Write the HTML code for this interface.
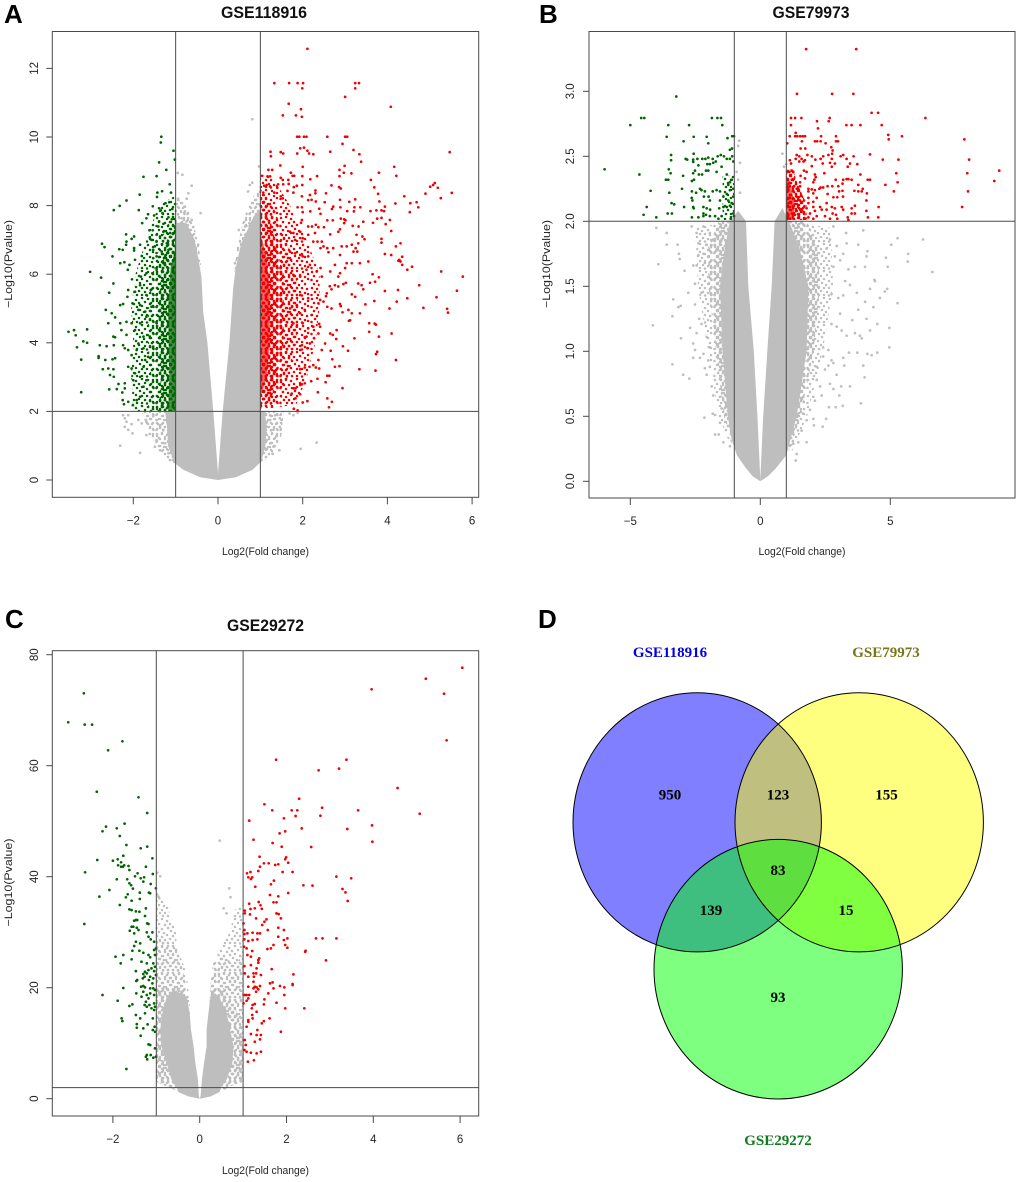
<!DOCTYPE html>
<html lang="en">
<head>
<meta charset="utf-8">
<title>Volcano plots and Venn diagram</title>
<style>
html,body{margin:0;padding:0;background:#fff;}
svg{display:block;}
text{font-family:"Liberation Sans",Arial,sans-serif;}
.venn-text{font-family:"Liberation Serif","Times New Roman",serif;font-weight:bold;}
#plot-a,#plot-b,#plot-c{filter:blur(0.3px);}
</style>
</head>
<body>
<svg id="figure" xmlns="http://www.w3.org/2000/svg" width="1020" height="1182" viewBox="0 0 1020 1182">
  <defs>
    <g id="tile-a">
      <circle cx="2" cy="2" r="1.25"/><circle cx="7" cy="1" r="1.25"/><circle cx="12" cy="3" r="1.25"/><circle cx="18" cy="1" r="1.25"/><circle cx="24" cy="2" r="1.25"/><circle cx="29" cy="4" r="1.25"/>
      <circle cx="4" cy="6" r="1.25"/><circle cx="10" cy="7" r="1.25"/><circle cx="15" cy="6" r="1.25"/><circle cx="21" cy="5" r="1.25"/><circle cx="26" cy="7" r="1.25"/>
      <circle cx="1.5" cy="10" r="1.25"/><circle cx="7" cy="11" r="1.25"/><circle cx="13" cy="10" r="1.25"/><circle cx="18" cy="9" r="1.25"/><circle cx="23" cy="11" r="1.25"/><circle cx="29" cy="9" r="1.25"/>
      <circle cx="4" cy="14" r="1.25"/><circle cx="9" cy="15" r="1.25"/><circle cx="16" cy="13" r="1.25"/><circle cx="20" cy="15" r="1.25"/><circle cx="26" cy="14" r="1.25"/>
      <circle cx="2" cy="18" r="1.25"/><circle cx="7" cy="19" r="1.25"/><circle cx="12" cy="17" r="1.25"/><circle cx="18" cy="18" r="1.25"/><circle cx="23" cy="18" r="1.25"/><circle cx="28" cy="19" r="1.25"/>
      <circle cx="5" cy="22" r="1.25"/><circle cx="10" cy="22" r="1.25"/><circle cx="15" cy="21" r="1.25"/><circle cx="21" cy="22" r="1.25"/><circle cx="26" cy="23" r="1.25"/>
      <circle cx="1.5" cy="25" r="1.25"/><circle cx="8" cy="25" r="1.25"/><circle cx="13" cy="25" r="1.25"/><circle cx="18" cy="25" r="1.25"/><circle cx="23" cy="25.5" r="1.25"/><circle cx="29" cy="24" r="1.25"/>
    </g>
    <g id="tile-b"><use href="#tile-a"/><use href="#tile-a" transform="translate(31,0) scale(-1,1)"/></g>
    <g id="tile-c"><use href="#tile-b"/><use href="#tile-b" transform="translate(0,27) scale(1,-1)"/></g>

    <pattern id="gray-sparse" width="31" height="27" patternUnits="userSpaceOnUse"><use href="#tile-a" fill="#bebebe"/></pattern>
    <pattern id="gray-medium" width="31" height="27" patternUnits="userSpaceOnUse"><use href="#tile-b" fill="#bebebe"/></pattern>
    <pattern id="gray-dense" width="31" height="27" patternUnits="userSpaceOnUse"><use href="#tile-c" fill="#bebebe"/></pattern>
    <pattern id="red-sparse" width="31" height="27" patternUnits="userSpaceOnUse"><use href="#tile-a" fill="#f00000"/></pattern>
    <pattern id="red-medium" width="31" height="27" patternUnits="userSpaceOnUse"><use href="#tile-b" fill="#f00000"/></pattern>
    <pattern id="red-dense" width="31" height="27" patternUnits="userSpaceOnUse"><use href="#tile-c" fill="#f00000"/></pattern>
    <pattern id="red-full" width="31" height="27" patternUnits="userSpaceOnUse"><rect width="31" height="27" fill="#f00000" fill-opacity="0.6"/><use href="#tile-c" fill="#f00000"/></pattern>
    <pattern id="green-sparse" width="31" height="27" patternUnits="userSpaceOnUse"><use href="#tile-a" fill="#006400"/></pattern>
    <pattern id="green-medium" width="31" height="27" patternUnits="userSpaceOnUse"><use href="#tile-b" fill="#006400"/></pattern>
    <pattern id="green-dense" width="31" height="27" patternUnits="userSpaceOnUse"><use href="#tile-c" fill="#006400"/></pattern>
    <pattern id="green-full" width="31" height="27" patternUnits="userSpaceOnUse"><rect width="31" height="27" fill="#006400" fill-opacity="0.7"/><use href="#tile-c" fill="#006400"/></pattern>
  </defs>
  <rect width="1020" height="1182" fill="#ffffff"/>

  <text x="4" y="23" font-size="26" font-weight="bold" fill="#000">A</text>
  <text x="539" y="23" font-size="26" font-weight="bold" fill="#000">B</text>
  <text x="5" y="628" font-size="26" font-weight="bold" fill="#000">C</text>
  <text x="538" y="628" font-size="26" font-weight="bold" fill="#000">D</text>

  <g id="plot-a"></g>
  <g id="plot-b"></g>
  <g id="plot-c"></g>

  <g>
    <ellipse cx="697.2" cy="822.3" rx="124.2" ry="129.6" fill="#0000ff" fill-opacity="0.5"/>
    <ellipse cx="859.2" cy="822.3" rx="124.2" ry="129.6" fill="#ffff00" fill-opacity="0.5"/>
    <ellipse cx="778.2" cy="969.2" rx="124.2" ry="129.8" fill="#00ff00" fill-opacity="0.5"/>
    <ellipse cx="697.2" cy="822.3" rx="124.2" ry="129.6" fill="none" stroke="#000" stroke-width="1"/>
    <ellipse cx="859.2" cy="822.3" rx="124.2" ry="129.6" fill="none" stroke="#000" stroke-width="1"/>
    <ellipse cx="778.2" cy="969.2" rx="124.2" ry="129.8" fill="none" stroke="#000" stroke-width="1"/>
    <text class="venn-text" x="670" y="657" font-size="15" text-anchor="middle" fill="#0000e0">GSE118916</text>
    <text class="venn-text" x="886" y="657" font-size="15" text-anchor="middle" fill="#76761a">GSE79973</text>
    <text class="venn-text" x="778" y="1145" font-size="15" text-anchor="middle" fill="#0f7a1f">GSE29272</text>
    <text class="venn-text" x="670" y="799.5" font-size="15" text-anchor="middle" fill="#000">950</text>
    <text class="venn-text" x="778" y="799.5" font-size="15" text-anchor="middle" fill="#000">123</text>
    <text class="venn-text" x="886.5" y="799.5" font-size="15" text-anchor="middle" fill="#000">155</text>
    <text class="venn-text" x="778" y="875" font-size="15" text-anchor="middle" fill="#000">83</text>
    <text class="venn-text" x="711" y="915" font-size="15" text-anchor="middle" fill="#000">139</text>
    <text class="venn-text" x="846" y="915" font-size="15" text-anchor="middle" fill="#000">15</text>
    <text class="venn-text" x="778" y="1002" font-size="15" text-anchor="middle" fill="#000">93</text>
  </g>
</svg>
<script>
/* ---------- Panel A: GSE118916 ---------- */
const aXTicks=[-2,0,2,4,6];
const aYTicks=[0,2,4,6,8,10,12];
const aYTickLabels=["0","2","4","6","8","10","12"];
const aFoldCut=[-1,1];
const aPvalCut=[2];
const aGrayLobeLeft=[[0,0],[-.42,.08],[-.82,.3],[-1.03,.5],[-1.18,1],[-1.2,1.5],[-1.25,2],[-1,2],[-1,7.5],[-.75,7.5],[-.55,7],[-.47,6.5],[-.39,5.9],[-.35,4.9],[-.25,4],[-.11,2],[-.03,.7],[0,.2]];
const aGrayLobeRight=[[0,0],[.42,.08],[.82,.3],[1.03,.55],[1.12,1],[1.15,1.6],[1.1,2],[1,2],[1,7.9],[.85,7.7],[.7,7.3],[.55,6.9],[.42,6.2],[.36,5.6],[.27,4],[.11,2],[.03,.7],[0,.2]];
const aGrayLowLeft=[[-1.03,.45],[-1.3,.75],[-1.55,1.2],[-1.7,1.6],[-1.8,2],[-1,2]];
const aGrayLowRight=[[1.03,.5],[1.3,.8],[1.5,1.3],[1.55,2],[1,2]];
const aGrayTopLeft=[[-1,7.3],[-1,8.2],[-.8,8.1],[-.6,7.6],[-.45,6.8],[-.38,6],[-.6,7]];
const aGrayTopRight=[[1,7.7],[1,8.6],[.8,8.2],[.6,7.6],[.45,6.8],[.38,6],[.6,7]];
const aGreenSparse=[[-1,2],[-2,2],[-2.05,3],[-2,4],[-2.05,5],[-1.95,6],[-1.7,7],[-1.4,8],[-1,8.3]];
const aGreenMedium=[[-1,2],[-1.65,2],[-1.6,3],[-1.65,4],[-1.65,5],[-1.55,6],[-1.35,7],[-1.1,7.7],[-1,7.8]];
const aGreenDense=[[-1,2],[-1.4,2],[-1.35,3],[-1.4,4],[-1.4,5],[-1.35,6],[-1.2,7],[-1,7.5]];
const aGreenFull=[[-1,2],[-1.18,2],[-1.15,3],[-1.18,5],[-1.12,6.2],[-1,6.8]];
const aRedSparse=[[1,2.05],[1.85,2.2],[2.1,3],[2.3,4],[2.4,5],[2.4,6],[2.1,7],[1.7,8],[1.3,8.8],[1,8.9]];
const aRedMedium=[[1,2.05],[1.45,2.2],[1.65,3],[1.85,4],[1.9,5],[1.85,6],[1.6,7],[1.3,8],[1,8.5]];
const aRedDense=[[1,2.1],[1.25,2.3],[1.4,3],[1.55,4],[1.55,5],[1.55,6],[1.35,7],[1.15,8],[1,8.2]];
const aRedFull=[[1,2.4],[1.15,3],[1.22,4],[1.22,5.5],[1.15,6.5],[1,7.2]];
const aGrayPoints=[[-2.31,1],[-1.84,.79],[-2.24,1.89],[-2.2,1.8],[-2.12,1.89],[-2.16,1.7],[-2.2,1.55],[-2.12,1.46],[-2.02,1.36],[-2.04,1.63],[-1.88,1.75],[-1.8,1.65],[-1.69,1.7],[-1.69,1.31],[-1.61,1.34],[-1.53,1.86],[-1.45,1.75],[-1.37,1.6],[-1.45,1.16],[-1.49,.97],[-1.37,.87],[-1.29,1.46],[-1.25,1.07],[-1.17,.78],[-1.13,.58],
[-.95,8.95],[-.84,8.9],[-.62,8.58],[-.7,8.36],[-.94,8.2],[-.74,8.2],[-.78,7.97],[-.78,7.83],[-.41,7.78],[-.62,7.58],[-.74,7.54],[-.86,7.63],[-.47,6.86],[.81,10.52],[.97,9.14],[.71,8.41],[.75,8.6],[.81,8.67],[.49,7.29],[.64,7.39],[.74,7.49],[.52,6.22],[.4,6.32],
[1.11,1.94],[1.23,1.89],[1.35,1.89],[1.46,1.8],[1.5,1.75],[1.07,1.65],[1.23,1.75],[1.39,1.65],[1.46,1.55],[1.15,1.55],[1.31,1.46],[1.07,1.26],[1.15,1.16],[1.23,1.07],[1.31,.97],[1.11,.92],[1.29,.76],[1.45,.87],[1.38,1.28],[1.95,.91],[2.33,1.09],[1.69,1.94],[1.78,1.89],[1.88,1.96],[1.03,.58]];
const aGreenPoints=[[-1.34,10.01],[-1.35,9.84],[-1.05,9.6],[-1.02,9.34],[-1.39,9.26],[-1.22,9.04],[-1.76,8.84],[-1.45,8.86],[-1.14,8.62],[-1.85,8.32],[-2.16,8.15],[-2.32,7.99],[-2.46,7.87],[-1.87,7.87],[-1.44,8.25],[-1.43,8.38],[-1.32,8.42],[-1.11,8.38],[-1.24,8.07],[-1.15,8.1],[-1.54,7.98],[-1.39,7.92],[-1.35,7.86],[-1.31,7.78],[-1.08,7.9],[-1.65,7.75],[-1.69,7.63],[-1.79,7.49],[-1.51,7.71],[-1.17,7.66],[-1.09,7.6],[-1.39,7.54],[-1.29,7.47],[-1.41,7.39],[-2.17,7.16],[-1.98,7.1],[-2.04,7.03],[-2.16,6.95],[-2.17,6.86],[-1.62,7.28],[-1.54,7.28],[-1.61,7.08],[-1.57,7],[-1.45,7.15],[-1.37,7.1],[-1.45,6.95],[-1.49,6.81],[-1.53,6.71],[-1.84,6.86],[-2.33,6.73],[-2.25,6.71],[-1.98,6.76],[-1.98,6.69],[-2.74,6.89],[-2.68,6.79],[-1.8,6.53],[-1.96,6.42],[-2.49,6.52],[-2.31,6.32],[-2.21,6.35],[-2.09,6.27],[-3.02,6.07],[-2.76,5.9],[-2.13,6.13],[-2.03,5.85],[-1.82,5.93],[-1.69,6.03],[-1.53,6.47],[-1.45,6.52],[-1.55,6.03],[-1.45,6.13],[-1.29,6.32],[-1.37,6.22],[-1.25,6.52],[-1.17,6.71],[-1.33,6.66],[-1.21,6.9],[-1.13,7.2],[-1.29,7.24],
[-3.53,4.32],[-3.4,4.37],[-3.36,4.22],[-3.09,4.39],[-3.18,4.04],[-3.09,4],[-3.33,3.87],[-3.23,3.51],[-3.23,2.56],[-2.82,3.61],[-2.82,3.56],[-2.79,3.93],[-2.63,3.9],[-2.46,3.93],[-2.66,3.5],[-2.49,3.52],[-2.43,3.55],[-2.72,3.23],[-2.59,3.25],[-2.55,3.06],[-2.46,3.01],[-2.47,3.23],[-2.57,2.64],[-2.39,2.65],[-2.35,2.8],[-2.26,2.55],[-2.2,2.67],[-2.2,2.82],[-2.25,2.33],[-2.22,2.21],[-2.12,2.28],[-2.01,2.18],[-1.92,2.33],[-1.84,2.43],[-2.57,5.46],[-2.65,4.96],[-2.59,4.57],[-2.47,5.73],[-2.51,4.86],[-2.43,4.74],[-2.47,4.18],[-2.43,4.16],[-2.31,4.57],[-2.28,4.37],[-2.16,4.23],[-2.31,5.1],[-2.24,5.13],[-2.12,5.54],[-2.14,5.34],[-1.96,5.49],[-2.02,5.15],[-1.84,5.1],[-2.16,4.61],[-2.04,4.57],[-1.96,4.37],[-1.84,4.57],[-1.72,4.91],[-1.69,4.76],[-1.88,4.96],[-2.2,3.84],[-2.12,3.79],[-2.24,3.93],[-2.04,3.64],[-1.88,3.98],[-1.76,3.84],[-1.92,3.79],[-2.12,3.3],[-2.04,3.25],[-1.96,3.11],[-2,2.91],[-1.76,3.3],[-1.72,3.5],[-1.84,3.01],[-1.69,2.91],[-1.76,2.72],[-1.65,3.59],[-1.53,3.89],[-1.61,4.18],[-1.45,4.57],[-1.57,5.05],[-1.76,4.18],[-1.69,5.39],[-1.84,5.68],[-1.59,5.54]];
const aRedPoints=[[2.11,12.57],[1.33,11.57],[1.68,11.57],[1.88,11.57],[2.01,11.57],[1.99,11.42],[3.24,11.57],[3.33,11.57],[3.24,11.42],[3,11.17],[4.08,10.88],[1.67,10.97],[1.96,10.81],[1.53,10.63],[1.84,10.63],[1.98,10.59],[1.87,10.01],[1.92,10.01],[2.03,10.01],[2.09,10.01],[2.58,10.01],[3,10.01],[3.05,10.01],
[1.24,9.57],[1.25,9.44],[1.48,9.56],[1.54,9.52],[1.87,9.52],[1.94,9.67],[2.03,9.69],[2.11,9.6],[2.15,9.52],[2.25,9.5],[2.65,9.57],[2.94,9.8],[3.2,9.62],[3.34,9.5],[3.38,9.28],[5.47,9.56],[1.47,9.17],[1.19,9.04],[1.28,9.04],[2,9.13],[2.99,9.16],[2.87,9.04],[2.97,8.96],[2.87,8.86],[3.15,8.94],[4.16,9.13],[4.21,8.87],[3.8,8.96],[3.61,8.75],[3.69,8.53],[3.78,8.34],[1.04,8.87],[1.17,8.85],[1.23,8.85],[1.72,8.96],[1.76,8.87],[1.8,8.87],[1.99,8.86],[2.18,8.77],[2.34,8.86],[1.66,8.75],[1.53,8.75],[1.48,8.81],[1.42,8.62],[1.54,8.62],[1.67,8.63],[1.09,8.58],[1.15,8.6],[1.23,8.56],[1.4,8.52],[1.79,8.54],[1.86,8.58],[1.99,8.6],[2.68,8.59],[2.86,8.54],[2.9,8.5],[5.12,8.66],[5.08,8.6],[5.01,8.55],[5.19,8.52],[4.9,8.35],[5.52,8.37],[5.26,8.22],[4.4,8.27],[2.55,8.36],[2.3,8.44],[2.3,8.36],[2.17,8.31],[1.98,8.27],[1.78,8.38],[1.64,8.43],[1.33,8.38],[1.07,8.38],[1.48,8.27],[1.53,8.21],[2.13,8.16],[2.21,8.17],[2.31,8.12],[2.52,8.1],[2.88,8.17],[3.1,8.11],[3.24,8.18],[3.81,8.12],[3.94,7.97],[4.19,8.06],[4.54,8.07],[4.69,8.1],[4.73,7.95],[4.53,7.81],[2.72,7.97],[2.69,7.9],[3.22,7.95],[3.36,7.95],[3.21,7.83],[3.05,7.84],[2.89,7.95],[2.39,7.91],[3.74,7.86],[3.86,7.86],[3.92,7.84],[3.6,7.84],[1.88,7.95],[1.98,7.95],[2.18,7.83],[2,7.81],[2.42,7.76],[3.76,7.62],[3.86,7.64],[4.06,7.58],[3.66,7.5],[3.96,7.46],[3.43,7.53],[4.09,7.26],[2.58,7.57],[2.71,7.57],[2.9,7.62],[2.98,7.6],[3.01,7.57],[3.18,7.41],[3.32,7.39],[2.98,7.49],[2.31,7.44],[2.37,7.37],[2.5,7.37],[2.13,7.39],[2.22,7.39],[1.98,7.58],[1.96,7.5],[2.88,7.31],[2.84,7.24],[2.65,7.16],[3.27,7.15],[3.41,7.1],[3.46,7.02],[3.86,7.03],[3.86,6.92],[4.31,6.9],[4.2,6.81],[3.94,6.59],[4.09,6.56],[4.35,6.51],[4.28,6.42],[4.26,6.39],[4.31,6.37],[4.35,6.27],[4.58,6.22],[4.47,6.13],[5.27,6.08],[5.78,5.93],[3.55,6.37],[3.65,6],[3.8,5.91],[2.45,6.95],[2.35,6.95],[2.25,6.95],[2.49,6.81],[2.42,6.76],[2.58,6.76],[2.72,6.76],[2.61,6.64],[2.92,6.81],[3.04,6.81],[3.16,6.86],[3.31,6.9],[3.25,6.76],[3.2,6.66],[3.29,6.66],[2.88,6.56],[2.76,6.27],[3.04,6.32],[3.16,6.32],[3.35,6.32],[2.65,6.08],[2.88,6.03],[3,6.18],[2.42,6.18],[2.33,6.08],[2.17,6.27],[2.09,6.13],[2,6.52],[2.13,6.52],[1.94,6.56],[1.82,6.61],[1.7,6.66],[2,7.05],[2.13,7.15],[2.29,7.2],[1.78,7.2],[1.7,7.24],[1.82,7],[1.94,7.24],[1.94,5.93],[1.78,5.98],[2.45,5.93],[2.84,5.93],
[5.64,5.52],[5.16,5.33],[4.47,5.3],[4.22,5.2],[4.05,5],[4.85,5.02],[5.41,4.99],[5.43,4.88],[4.75,5.68],[4.25,5.54],[3.94,5.51],[3.69,5.22],[3.48,5.12],[3.24,5.34],[3.16,5.41],[3.71,5.78],[3.59,5.75],[3.43,5.56],[3.39,5.68],[3.31,5.73],[3.02,5.75],[2.96,5.71],[2.76,5.68],[2.64,5.65],[2.84,5.64],[2.68,5.56],[2.57,5.44],[2.55,5.36],[2.41,5.25],[2.37,5.15],[2.49,5.2],[2.58,5.05],[2.68,5],[2.88,5.13],[2.9,5.07],[3.08,4.96],[3.16,4.86],[2.94,4.89],[3.35,4.86],[3.09,4.64],[3.12,4.66],[3.57,4.57],[3.7,4.56],[3.73,4.53],[4.1,4.27],[3.57,4.32],[3.8,4.18],[3.22,4.13],[2.8,4.37],[2.65,4.27],[2.71,4.23],[2.79,4.11],[2.95,3.9],[3.07,3.77],[2.66,3.77],[3.76,3.74],[3.73,3.67],[2.7,3.52],[4.2,3.5],[2.87,3.32],[2.76,3.3],[3.34,3.23],[3.72,3.19],[2.58,3.04],[2.63,3.04],[2.54,2.85],[2.94,2.68],[2.36,2.56],[2.58,2.38],[2.69,2.28],[2.62,2.12],[2.11,2.3],[2,2.26],[2.35,2.95],[2.2,2.88],[2.05,2.82],[1.98,2.79],[1.94,2.77],[1.79,2.67],[1.83,2.67],[1.94,2.5],[1.83,2.38],[1.74,2.52],[1.88,2.03],[1.79,2.08],[2.53,3.98],[2.45,3.79],[2.37,3.5],[2.25,3.35],[2.16,3.3],[2.05,3.28],[1.94,3.23],[2.39,3.25],[2.31,3.28],[2.37,4.27],[2.27,4.13],[2.09,4.18],[2.05,4.16],[2.17,3.98],[1.98,3.93],[1.94,3.79],[2.11,3.84],[2.39,4.55],[2.25,4.47],[2.13,4.42],[2,4.57],[1.78,4.57],[1.86,4.47],[2.41,4.47],[2.13,5.3],[1.94,5.39],[1.86,5.1],[2.05,4.96],[1.7,5],[1.94,4.86],[2.21,4.81]];

/* ---------- Panel B: GSE79973 ---------- */
const bXTicks=[-5,0,5];
const bYTicks=[0,.5,1,1.5,2,2.5,3];
const bYTickLabels=["0.0","0.5","1.0","1.5","2.0","2.5","3.0"];
const bFoldCut=[-1,1];
const bPvalCut=[2];
const bGrayCoreLeft=[[0,0],[-.3,.04],[-.55,.1],[-.9,.2],[-1.1,.32],[-1.25,.5],[-1.45,1],[-1.55,1.5],[-1.4,1.75],[-1.17,2],[-.85,2.08],[-.55,2],[-.46,1.5],[-.25,1],[-.11,.5],[-.02,.1],[0,.02]];
const bGrayCoreRight=[[0,0],[.3,.04],[.6,.1],[1,.2],[1.2,.35],[1.4,.5],[1.78,1],[1.85,1.5],[1.5,1.8],[1.1,2],[.85,2.1],[.55,2],[.44,1.5],[.27,1],[.11,.5],[.02,.1],[0,.02]];
const bGrayDenseLeft=[[-1.1,.28],[-1.4,.5],[-1.7,1],[-2,1.5],[-2,1.8],[-1.6,2],[-1,2],[-1,1]];
const bGrayDenseRight=[[1.1,.22],[1.55,.5],[2.05,1],[2.3,1.5],[2.2,1.8],[1.8,2],[1,2],[1,1]];
const bGraySparseLeft=[[-1.2,.3],[-1.6,.5],[-2,1],[-2.4,1.5],[-2.5,1.95],[-1,2],[-1,1]];
const bGraySparseRight=[[1.2,.22],[1.8,.5],[2.4,1],[2.8,1.5],[2.7,1.95],[1,2],[1,1]];
const bRedDense=[[1,2.01],[1.8,2.01],[1.8,2.12],[1.45,2.28],[1.25,2.4],[1,2.4]];
const bRedFull=[[1,2.01],[1.3,2.01],[1.3,2.15],[1.15,2.3],[1,2.35]];
const bGreenSparse=[[-1,2.01],[-1.45,2.01],[-1.45,2.35],[-1,2.35]];
const bGrayPoints=[[-.81,2.62],[-.85,2.58],[-.78,2.45],[-.91,2.38],[-.85,2.32],[-.78,2.22],[.85,2.52],[.91,2.42],[1,2.44],[-4,1.95],[-3.6,1.91],[-3.6,1.82],[-3.18,1.82],[-3.13,1.75],[-3.1,1.71],[-3.92,1.67],[-2.91,1.62],[-2.58,1.66],[-2.45,1.66],[-2.38,1.74],[-2.38,1.83],[-2.19,1.75],[-2.06,1.82],[-2.64,1.96],[-2.45,1.91],[-2.19,1.96],[-1.94,1.91],[-1.81,1.86],[-1.68,1.78],[-1.49,1.86],[-2.13,1.68],[-2,1.73],[-1.74,1.65],[-1.29,1.91],[-1.17,1.96],
[-4.13,1.2],[-3.35,1.4],[-3.38,1.27],[-3.15,1.34],[-3.06,1.35],[-3.05,1.1],[-3.38,.9],[-2.97,.82],[-2.73,.79],[-2.15,.49],[-2.77,1.45],[-2.51,1.36],[-2.51,1.52],[-2.26,1.45],[-2.7,1.18],[-2.35,1.25],[-2.26,1.21],[-2.45,1.14],[-2.58,1.06],[-2.51,1.01],[-2.58,.95],[-2.32,.95],[-2.19,.98],[-2,.93],[-1.94,1.03],[-2.06,1.11],[-2.13,.87],[-2.06,.82],[-1.94,.88],[-1.87,.73],[-1.81,.66],[-1.83,.52],[-1.74,.51],[-1.74,.36],[-1.6,.36],[-1.55,.45],[-1.42,.3],[-1.17,.27],[-1.49,.56],[-1.55,.65],
[5.28,1.37],[4.88,1.48],[4.79,1.46],[4.6,1.41],[4.96,1.18],[4.96,1.03],[4.5,1.21],[4.22,1.16],[4.5,.99],[4.28,.97],[4.12,.98],[3.96,.89],[4.01,.8],[3.87,.6],[3.17,.58],[2.9,.57],[2.64,.57],[2.53,.48],[2.4,.42],[2.06,.43],[2.04,.48],[3.45,.73],[3.11,.73],[3.04,.66],[2.68,.75],[2.81,.71],[2.94,.82],[3.23,.89],[3.19,.95],[3.41,.99],[3.73,.99],[3.64,1.14],[3.83,1.12],[3.9,1.1],[3.32,1.12],[3.13,1.16],[2.94,1.19],[2.74,1.21],[3.54,1.24],[4.09,1.25],[4.03,1.38],[4.35,1.34],[3.77,1.32],[3.71,1.45],[4.22,1.48],[4.41,1.54],[3.19,1.43],[3,1.41],[2.74,1.44],[3.45,1.51],[3.07,1.29],[3.26,1.54],[2.42,1.03],[2.62,1.01],[2.74,.93],[2.81,.91],[2.42,.96],[2.17,.88],[2.49,.86],[2.62,.89],[2.3,.73],[2.36,.66],[2.1,.62],[1.91,.55],[1.78,.47],[1.4,.21],[1.36,.16],[1.78,.3],[1.46,.3],[1.27,.29],[1.59,.39],[1.65,.52],[2.04,.65],[2.17,.78],
[5.28,1.87],[6.26,1.86],[5.04,1.82],[4.83,1.72],[5.69,1.75],[5.67,1.69],[4.9,1.65],[6.62,1.61],[4.39,1.55],[4.12,1.77],[3.96,1.93],[3.77,1.82],[4.09,1.73],[4.03,1.65],[3.64,1.65],[3.39,1.63],[3.19,1.75],[2.94,1.81],[2.87,1.73],[3.32,1.83],[2.81,1.96],[3.3,1.91],[2.55,1.79],[2.68,1.86],[3.07,1.7],[2.81,1.65]];
const bGreenPoints=[[-3.23,2.96],[-5.99,2.4],[-5,2.74],[-4.58,2.795],[-4.46,2.795],[-3.54,2.74],[-3.6,2.65],[-2.74,2.74],[-1.86,2.795],[-1.65,2.795],[-1.51,2.795],[-1.46,2.74],[-2.56,2.65],[-2.06,2.65],[-2.95,2.615],[-2,2.6],[-1.26,2.64],[-1.08,2.655],[-1.01,2.655],[-3.43,2.51],[-3.43,2.47],[-2.87,2.48],[-2.81,2.475],[-2.56,2.52],[-2.58,2.475],[-2.58,2.457],[-2.42,2.48],[-2.23,2.48],[-2.11,2.48],[-2,2.49],[-2.04,2.44],[-1.94,2.44],[-1.81,2.45],[-1.71,2.46],[-1.83,2.48],[-1.64,2.5],[-1.52,2.51],[-1.4,2.5],[-1.29,2.48],[-1.17,2.55],[-1.09,2.56],[-1.08,2.5],[-1.04,2.46],[-1.17,2.48],[-4.65,2.36],[-4.22,2.235],[-4.37,2.11],[-4.49,2.05],[-4,2.03],[-3.52,2.4],[-3.45,2.37],[-3.63,2.32],[-3.54,2.32],[-3.5,2.22],[-3.41,2.14],[-3.31,2.13],[-3.56,2.06],[-3.4,2.06],[-2.97,2.35],[-3.01,2.25],[-2.93,2.11],[-2.63,2.03],[-2.63,2.23],[-2.64,2.18],[-2.61,2.16],[-2.58,2.11],[-2.56,2.1],[-2.58,2.37],[-2.63,2.31],[-2.55,2.32],[-2.51,2.39],[-2.38,2.43],[-2.36,2.36],[-2.24,2.36],[-2.38,2.03],[-2.19,2.04],[-2.09,2.05],[-2.47,2.22],[-2.32,2.25],[-2.26,2.24],[-2.17,2.19],[-2.13,2.23],[-1.99,2.19],[-1.94,2.16],[-1.83,2.23],[-1.68,2.24],[-1.55,2.23],[-2,2.39],[-2.09,2.39],[-1.68,2.38],[-1.49,2.42],[-1.29,2.36],[-1.23,2.28],[-1.17,2.3],[-1.1,2.32],[-2.19,2.11],[-2.06,2.1],[-1.93,2.09],[-2.19,2.06],[-1.94,2.04],[-1.74,2.04],[-1.61,2.02],[-1.49,2.04],[-1.58,2.1],[-1.42,2.11],[-1.29,2.11],[-1.17,2.12],[-1.1,2.14],[-1.04,2.06],[-1.14,2.02],[-1.01,2.04],[-1.55,2.16],[-1.42,2.19],[-1.29,2.21],[-1.17,2.24],[-1.04,2.25],[-1.04,2.19],[-1.23,2.16]];
const bRedPoints=[[1.76,3.325],[3.69,3.325],[1.41,2.98],[2.76,2.98],[3.58,2.98],[4.28,2.835],[4.53,2.835],[1.18,2.795],[1.34,2.795],[1.58,2.795],[2.18,2.77],[2.67,2.795],[2.63,2.77],[6.35,2.795],[1.18,2.74],[3.31,2.74],[3.51,2.74],[3.85,2.74],[4.67,2.74],[2.22,2.715],[1.36,2.68],[1.13,2.655],[1.34,2.655],[1.42,2.655],[1.53,2.655],[1.63,2.655],[1.72,2.655],[2.34,2.655],[2.91,2.655],[4.92,2.665],[4.94,2.63],[5.45,2.655],[7.85,2.63],[1.04,2.6],[1.6,2.615],[2.1,2.615],[2.19,2.615],[2.32,2.615],[2.51,2.6],[2.91,2.615],[2.99,2.615],[1.55,2.56],[1.73,2.56],[2.73,2.57],[2.78,2.545],[2.76,2.52],[2.62,2.51],[2.42,2.5],[2.32,2.48],[2.4,2.445],[1.4,2.51],[1.5,2.5],[1.36,2.48],[1.59,2.48],[1.72,2.47],[1.66,2.46],[1.81,2.51],[1.98,2.5],[2.12,2.475],[1.98,2.425],[1.14,2.47],[1.18,2.445],[1.5,2.46],[2.75,2.48],[2.68,2.45],[2.87,2.445],[2.75,2.42],[3.09,2.5],[3.19,2.51],[3.32,2.48],[3.59,2.5],[3.45,2.445],[3.36,2.42],[3.73,2.44],[4.22,2.515],[4.71,2.475],[5.31,2.475],[8.03,2.475],[7.96,2.37],[9.19,2.39],[9,2.31],[7.99,2.23],[7.76,2.11],[5.23,2.37],[5.28,2.3],[5.14,2.23],[4.81,2.28],[3.85,2.36],[4.13,2.32],[4.22,2.32],[4.55,2.11],[4.54,2.03],[4.14,2.03],[4.08,2.08],[4.08,2.16],[4.1,2.215],[3.94,2.25],[3.9,2.23],[3.77,2.23],[3.77,2.28],[3.62,2.235],[3.51,2.32],[3.39,2.325],[3.32,2.325],[3.19,2.32],[3.16,2.29],[2.9,2.32],[2.77,2.27],[2.59,2.27],[2.59,2.21],[3,2.27],[3.03,2.23],[3.16,2.235],[3.18,2.19],[2.96,2.185],[2.81,2.185],[2.46,2.37],[2.1,2.36],[2.13,2.34],[2.08,2.32],[2.04,2.3],[1.78,2.38],[1.68,2.39],[1.55,2.35],[1.53,2.3],[1.72,2.33],[2.42,2.26],[2.32,2.26],[2.27,2.25],[2.1,2.24],[1.98,2.245],[1.85,2.25],[2.04,2.215],[1.85,2.23],[1.53,2.27],[1.4,2.25],[1.3,2.27],[1.27,2.23],[1.14,2.27],[1.08,2.29],[1.08,2.24],[1.21,2.32],[1.27,2.38],[1.21,2.39],[1.12,2.38],[1.4,2.19],[1.68,2.16],[1.85,2.18],[2.04,2.15],[2.17,2.18],[2.3,2.11],[2.55,2.14],[2.36,2.09],[2.04,2.11],[1.85,2.14],[1.53,2.16],[1.14,2.18],[1.08,2.14],[1.14,2.11],[1.27,2.1],[1.4,2.08],[1.53,2.09],[1.66,2.07],[1.78,2.1],[1.91,2.06],[2.1,2.08],[1.21,2.06],[1.33,2.05],[1.08,2.05],[1.14,2.02],[1.72,2.02],[1.85,2.03],[2.04,2.02],[2.17,2.04],[2.49,2.04],[2.68,2.02],[2.78,2.06],[2.91,2.05],[2.96,2.02],[3.13,2.11],[3.19,2.09],[2.75,2.11],[2.87,2.1],[2.55,2.09],[3.51,2.1],[3.64,2.12],[3.51,2.06],[3.64,2.06],[3.36,2.03],[3.39,2.01]];

/* ---------- Panel C: GSE29272 ---------- */
const cXTicks=[-2,0,2,4,6];
const cYTicks=[0,20,40,60,80];
const cYTickLabels=["0","20","40","60","80"];
const cFoldCut=[-1,1];
const cPvalCut=[2];
const cGrayCoreLeft=[[0,0],[-.25,.4],[-.5,1.2],[-.53,2.2],[-.65,3.4],[-.76,6.4],[-.88,9.4],[-.91,12.4],[-.86,15.4],[-.76,18.4],[-.6,19.6],[-.45,19],[-.3,18.4],[-.23,15.4],[-.2,12.4],[-.14,9.4],[-.1,6.4],[-.04,3.4],[-.02,.5]];
const cGrayCoreRight=[[0,0],[.25,.4],[.46,1.2],[.5,2.2],[.62,3.4],[.75,6.4],[.78,9.4],[.7,12.4],[.62,15.4],[.45,18.4],[.35,19],[.25,18.4],[.2,15.4],[.16,12.4],[.16,9.4],[.1,6.4],[.05,3.4],[.02,.5]];
const cGrayDenseLeft=[[-1,3],[-.55,1.5],[-.3,8],[-.25,16],[-.32,20],[-1,20]];
const cGrayMediumLeft=[[-1,18],[-.3,20],[-.45,25],[-.53,27.4],[-1,29]];
const cGrayDenseRight=[[1,3.5],[.55,1.5],[.3,8],[.25,16],[.25,20],[.55,20],[.9,15],[1,10]];
const cGrayMediumRight=[[1,3],[.6,2],[.3,10],[.24,20],[.31,24.4],[.51,26],[.8,24],[1,26]];
const cGraySparseLeft=[[-1,3],[-.7,3],[-.3,10],[-.22,16],[-.3,22.6],[-.53,27.4],[-.55,31],[-.68,33],[-.75,35.5],[-1,36]];
const cGraySparseRight=[[1,4],[.7,2.5],[.3,10],[.22,16],[.24,20.2],[.31,24.4],[.51,28],[.7,30],[.8,34],[1,35]];
const cGrayPoints=[[.46,46.5],[-.98,40.73],[-.91,40.07],[.68,37.9],[.71,36.3],[-.95,36.4],[.55,34.3],[.62,33.4],[-.98,36.8],[-.93,36.1]];
const cGreenPoints=[[-2.67,73.04],[-3.03,67.82],[-2.65,67.4],[-2.48,67.4],[-1.78,64.39],[-2.11,62.77],[-2.37,55.32],[-1.41,54.3],[-1.21,51.48],[-1.73,49.56],[-2.16,49.02],[-1.91,48.72],[-2.24,48.18],[-1.84,47.34],[-1.69,45.72],[-1.36,45.12],[-1.21,45.42],[-1.76,43.79],[-1.09,43.31],[-2.36,43.01],[-2,42.89],[-1.89,43.13],[-1.81,42.59],[-1.88,42.05],[-1.81,41.81],[-1.77,41.81],[-1.74,42.05],[-1.64,41.93],[-1.62,41.21],[-1.24,41.81],[-2.64,40.79],[-1.43,40.61],[-1.49,40.07],[-1.08,40.49],[-1.36,39.71],[-1.28,39.89],[-1.91,39.53],[-1.67,39.53],[-1.3,39.11],[-1.62,38.81],[-1.58,38.45],[-1.54,37.85],[-1.13,38.69],[-1.01,37.91],[-2.08,37.61],[-1.38,37.13],[-1.17,37.13],[-1.14,37.01],[-1.66,36.83],[-1.7,36.29],[-2.31,36.41],[-1.38,35.99],
[-2.66,31.47],[-1.84,34.9],[-1.57,35.68],[-1.62,34.11],[-1.57,33.99],[-1.47,33.75],[-1.39,33.69],[-1.24,34.29],[-1.26,32.91],[-1.47,32.19],[-1.51,32.07],[-1.44,32.19],[-1.21,31.59],[-1.18,31.47],[-1.57,30.99],[-1.53,30.99],[-1.61,30.27],[-1.45,30.81],[-1.41,30.39],[-1.51,29.79],[-1.22,29.97],[-1.09,29.97],[-1.18,29.19],[-1.13,28.71],[-1.05,28.29],[-1.37,27.99],[-1.47,28.29],[-1.51,27.51],[-1.55,26.67],[-1.39,26.67],[-1.3,26.31],[-1.18,25.89],[-1.14,25.47],[-1.03,25.89],[-1.01,27.09],[-1.05,26.79],[-1.76,25.89],[-1.94,25.59],[-1.82,24.38],[-1.57,25.11],[-1.34,24.69],[-1.22,24.38],[-1.07,24.38],
[-1.47,23],[-1.44,21.38],[-1.46,21.2],[-1.3,22.46],[-1.26,22.88],[-1.22,22.58],[-1.31,21.68],[-1.27,21.98],[-1.18,23.18],[-1.11,23.48],[-1.03,23.78],[-1.05,23],[-1.14,21.98],[-1.07,21.68],[-1.01,22.28],[-1.09,20.78],[-1.17,21.38],[-1.3,20.3],[-1.35,20.18],[-1.26,20.06],[-1.76,19.94],[-1.46,18.98],[-1.3,19.28],[-1.14,19.88],[-1.07,19.88],[-1.03,19.58],[-1.14,18.98],[-1.22,18.68],[-1.34,18.38],[-1.05,18.68],[-1.18,18.08],[-1.24,17.48],[-1.27,16.88],[-1.16,16.88],[-1.05,17.18],[-1.22,16.58],[-1.03,16.58],[-1.11,16.28],[-1.05,15.98],[-1.62,16.7],[-1.55,17],[-1.26,15.38],[-1.47,15.08],[-1.8,14.47],[-1.78,13.99],[-1.37,14.47],[-1.45,13.45],[-1.45,12.79],[-1.3,12.67],[-1.2,13.39],[-1.08,14.47],[-1.04,12.97],[-1.08,12.37],[-1.03,12.07],[-1.36,11.35],[-2.24,18.68],[-1.89,17.66],[-1.18,9.79],[-1.14,9.67],[-1.22,7.87],[-1.24,7.57],[-1.21,7.09],[-1.13,7.87],[-1.03,9.07],[-1.07,7.39],[-1.01,7.57],[-1.69,5.35]];
const cRedPoints=[[6.05,77.66],[5.21,75.68],[5.63,72.98],[3.96,73.76],[5.69,64.57],[1.76,61.09],[3.38,61.09],[3.21,59.47],[2.74,59.17],[4.56,55.98],[2.29,54.06],[1.49,53.04],[2.82,52.44],[1.67,51.96],[2.12,51.96],[2.25,51.96],[3.65,51.96],[5.07,51.36],[2.21,50.94],[2.78,51],[1.94,50.52],[1.14,50.1],[3.97,49.25],[3.4,48.59],[2.35,48.71],[1.97,48.17],[1.84,47.81],[1.24,46.67],[3.98,46.31],[1.68,46.07],[1.89,45.41],[2.57,45.35],[1.38,43.61],[1.99,43.49],[1.97,43.13],[1.48,42.41],[1.59,42.41],[2.04,42.53],[1.74,42.11],[1.81,42.23],[1.39,41.81],[1.35,41.03],[1.17,40.85],[1.09,40.61],[1.91,40.85],[2.14,40.85],[1.12,39.89],[1.18,39.59],[1.21,39.89],[3.15,40.01],[3.49,39.71],[1.71,39.29],[1.64,38.63],[1.28,38.2],[2.39,38.45],[2.6,38.39],[3.29,37.78],[3.36,37.18],[1.62,36.7],[1.81,36.46],[2.04,37.06],[3.41,35.62],[1.36,35.44],[1.7,35.38],[1.77,35.38],[1.14,35.14],[1.4,34.84],[1.27,34.3],[1.17,34.18],
[1.04,33.9],[1.04,33.4],[1.16,33.2],[1.43,34.2],[1.77,33.39],[1.82,33.27],[1.87,32.49],[1.3,32.49],[1.54,32.31],[1.49,31.89],[1.44,31.29],[1.57,30.39],[1.81,30.81],[1.94,30.39],[1.01,31.59],[1.03,30.39],[1.03,29.67],[1.1,29.79],[1.22,29.91],[1.33,29.79],[1.39,29.79],[1.03,28.71],[1.12,28.41],[1.22,28.59],[1.33,28.71],[1.81,29.19],[1.94,28.59],[2.02,28.89],[1.97,27.69],[2.02,27.21],[1.7,27.69],[1.64,27.09],[1.56,26.97],[2.68,28.89],[2.83,28.89],[3.15,28.89],[2.44,26.67],[2.43,26.49],[2.91,24.92],[1.02,27.39],[1.08,27.09],[1.21,26.61],[1.1,25.89],[1.18,25.59],[1.03,23.9],[1.18,24.08],[1.35,24.98],[1.37,25.29],[1.35,24.5],[1.31,23.48],[1.66,23.36],[2.16,22.4],[2.14,20.66],[2.14,20.48],[1.04,22.58],[1.12,21.98],[1.24,22.58],[1.3,22.58],[1.25,21.98],[1.41,22.28],[1.24,21.08],
[1.62,20.78],[1.68,20.96],[1.12,20.18],[1.24,19.88],[1.27,20.18],[1.31,20.06],[1.35,19.7],[1.3,19.28],[1.39,20.3],[1.7,19.88],[1.85,20.3],[1.95,20.06],[1.58,18.98],[1.08,18.68],[1.14,18.68],[1.12,18.08],[1.04,18.68],[1.95,18.68],[1.49,17.9],[1.48,17],[1.77,17.3],[1.97,16.28],[2.41,16.28],[1.01,17.18],[1.08,17.66],[1.22,16.88],[1.27,17.06],[1.2,16.28],[1.31,15.68],[1.21,15.08],[1.22,14.47],[1.12,13.87],[1.08,12.97],[1.18,11.65],[1.12,14.17],[1.48,13.99],[1.43,13.57],[1.61,14.47],[1.33,12.37],[1.31,11.47],[1.41,11.47],[1.27,10.27],[1.39,10.69],[1.87,12.07],[1.04,10.57],[1.06,9.67],[1.03,8.77],[1.08,8.47],[1.18,8.29],[1.41,8.47],[1.31,8.17],[1.11,6.67],[1.25,6.91]];

/* ---------- Drawing ---------- */
const SVG_NS='http://www.w3.org/2000/svg';
const LINE='#4a4a4a';
const TEXT='#262626';

function add(parent,tag,name,attrs){
  const el=document.createElementNS(SVG_NS,tag);
  
  
  for(const k in attrs){el.setAttribute(k,attrs[k]);}
  parent.appendChild(el);
  return el;
}
function label(parent,name,str,attrs){
  const t=add(parent,'text',name,attrs);
  t.textContent=str;
  return t;
}
function minus(v){return v<0?'\u2212'+Math.abs(v):String(v);}

function drawPanel(id,p,d){
  const g=document.getElementById(id);
  const sx=v=>p.x0+v*p.xk;
  const sy=v=>p.y0-v*p.yk;
  const poly=(name,pts,fill)=>add(g,'polygon',name,{points:pts.map(q=>sx(q[0]).toFixed(1)+','+sy(q[1]).toFixed(1)).join(' '),fill:fill});
  const dots=(name,pts,fill)=>pts.forEach(q=>add(g,'circle',name,{cx:sx(q[0]).toFixed(1),cy:sy(q[1]).toFixed(1),r:1.35,fill:fill}));

  d.grayBands.forEach(b=>poly('not-significant-density-band',b[0],b[1]));
  dots('not-significant-point',d.gray,'#bebebe');
  d.greenBands.forEach(b=>poly('down-regulated-density-band',b[0],b[1]));
  d.redBands.forEach(b=>poly('up-regulated-density-band',b[0],b[1]));
  dots('down-regulated-point',d.green,'#006400');
  dots('up-regulated-point',d.red,'#f00000');

  d.foldCut.forEach(v=>add(g,'line','fold-change-threshold-line',{x1:sx(v),x2:sx(v),y1:p.top,y2:p.bottom,stroke:LINE,'stroke-width':1}));
  d.pvalCut.forEach(v=>add(g,'line','pvalue-threshold-line',{x1:p.left,x2:p.right,y1:sy(v),y2:sy(v),stroke:LINE,'stroke-width':1}));
  add(g,'rect','plot-frame',{x:p.left,y:p.top,width:p.right-p.left,height:p.bottom-p.top,fill:'none',stroke:LINE,'stroke-width':1});

  d.xTicks.forEach(v=>{
    add(g,'line','x-axis-tick',{x1:sx(v),x2:sx(v),y1:p.bottom,y2:p.bottom+7,stroke:LINE,'stroke-width':1});
    label(g,'x-axis-tick-label',minus(v),{x:sx(v),y:p.bottom+27,'font-size':11.5,'text-anchor':'middle',fill:TEXT});
  });
  d.yTicks.forEach((v,i)=>{
    add(g,'line','y-axis-tick',{x1:p.left-6,x2:p.left,y1:sy(v),y2:sy(v),stroke:LINE,'stroke-width':1});
    label(g,'y-axis-tick-label',d.yLabels[i],{transform:'translate('+p.yLabelX+','+sy(v)+') rotate(-90)',x:0,y:0,'font-size':11.5,'text-anchor':'middle',fill:TEXT});
  });
  label(g,'x-axis-title','Log2(Fold change)',{x:p.xTitleX,y:p.xTitleY,'font-size':11,'text-anchor':'middle',fill:TEXT,textLength:87,lengthAdjust:'spacingAndGlyphs'});
  label(g,'y-axis-title','\u2212Log10(Pvalue)',{transform:'translate('+p.yTitleX+','+p.yTitleY+') rotate(-90)',x:0,y:0,'font-size':11,'text-anchor':'middle',fill:TEXT,textLength:88,lengthAdjust:'spacingAndGlyphs'});
  label(g,'plot-title',p.title,{x:p.titleX,y:p.titleY,'font-size':16.5,'font-weight':'bold','text-anchor':'middle',fill:'#111',textLength:p.titleW,lengthAdjust:'spacingAndGlyphs'});
}

drawPanel('plot-a',
 {x0:218,xk:42.35,y0:480,yk:34.3,left:52.3,right:478.7,top:31.5,bottom:497.3,yLabelX:38,xTitleX:265.5,xTitleY:555,yTitleX:12,yTitleY:264,title:'GSE118916',titleX:264,titleY:18,titleW:86},
 {gray:aGrayPoints,green:aGreenPoints,red:aRedPoints,
  grayBands:[[aGrayLowLeft,'url(#gray-medium)'],[aGrayLowRight,'url(#gray-medium)'],[aGrayTopLeft,'url(#gray-medium)'],[aGrayTopRight,'url(#gray-medium)'],[aGrayLobeLeft,'#bebebe'],[aGrayLobeRight,'#bebebe']],
  greenBands:[[aGreenSparse,'url(#green-sparse)'],[aGreenMedium,'url(#green-medium)'],[aGreenDense,'url(#green-dense)'],[aGreenFull,'url(#green-full)']],
  redBands:[[aRedSparse,'url(#red-sparse)'],[aRedMedium,'url(#red-medium)'],[aRedDense,'url(#red-dense)'],[aRedFull,'url(#red-full)']],
  foldCut:aFoldCut,pvalCut:aPvalCut,xTicks:aXTicks,yTicks:aYTicks,yLabels:aYTickLabels});

drawPanel('plot-b',
 {x0:760.3,xk:26,y0:481.3,yk:130,left:589,right:1015,top:31.5,bottom:498,yLabelX:574,xTitleX:802,xTitleY:555,yTitleX:550,yTitleY:264,title:'GSE79973',titleX:811,titleY:18,titleW:77},
 {gray:bGrayPoints,green:bGreenPoints,red:bRedPoints,
  grayBands:[[bGraySparseLeft,'url(#gray-sparse)'],[bGraySparseRight,'url(#gray-sparse)'],[bGrayDenseLeft,'url(#gray-dense)'],[bGrayDenseRight,'url(#gray-dense)'],[bGrayCoreLeft,'#bebebe'],[bGrayCoreRight,'#bebebe']],
  greenBands:[[bGreenSparse,'url(#green-sparse)']],
  redBands:[[bRedDense,'url(#red-dense)'],[bRedFull,'url(#red-full)']],
  foldCut:bFoldCut,pvalCut:bPvalCut,xTicks:bXTicks,yTicks:bYTicks,yLabels:bYTickLabels});

drawPanel('plot-c',
 {x0:199.7,xk:43.4,y0:1098.7,yk:5.55,left:52.3,right:478.7,top:650.7,bottom:1116,yLabelX:38,xTitleX:265.5,xTitleY:1174,yTitleX:12,yTitleY:882.5,title:'GSE29272',titleX:265.5,titleY:631,titleW:77},
 {gray:cGrayPoints,green:cGreenPoints,red:cRedPoints,
  grayBands:[[cGraySparseLeft,'url(#gray-sparse)'],[cGraySparseRight,'url(#gray-sparse)'],[cGrayMediumLeft,'url(#gray-medium)'],[cGrayMediumRight,'url(#gray-medium)'],[cGrayDenseLeft,'url(#gray-dense)'],[cGrayDenseRight,'url(#gray-dense)'],[cGrayCoreLeft,'#bebebe'],[cGrayCoreRight,'#bebebe']],
  greenBands:[],redBands:[],
  foldCut:cFoldCut,pvalCut:cPvalCut,xTicks:cXTicks,yTicks:cYTicks,yLabels:cYTickLabels});
</script>
</body>
</html>
